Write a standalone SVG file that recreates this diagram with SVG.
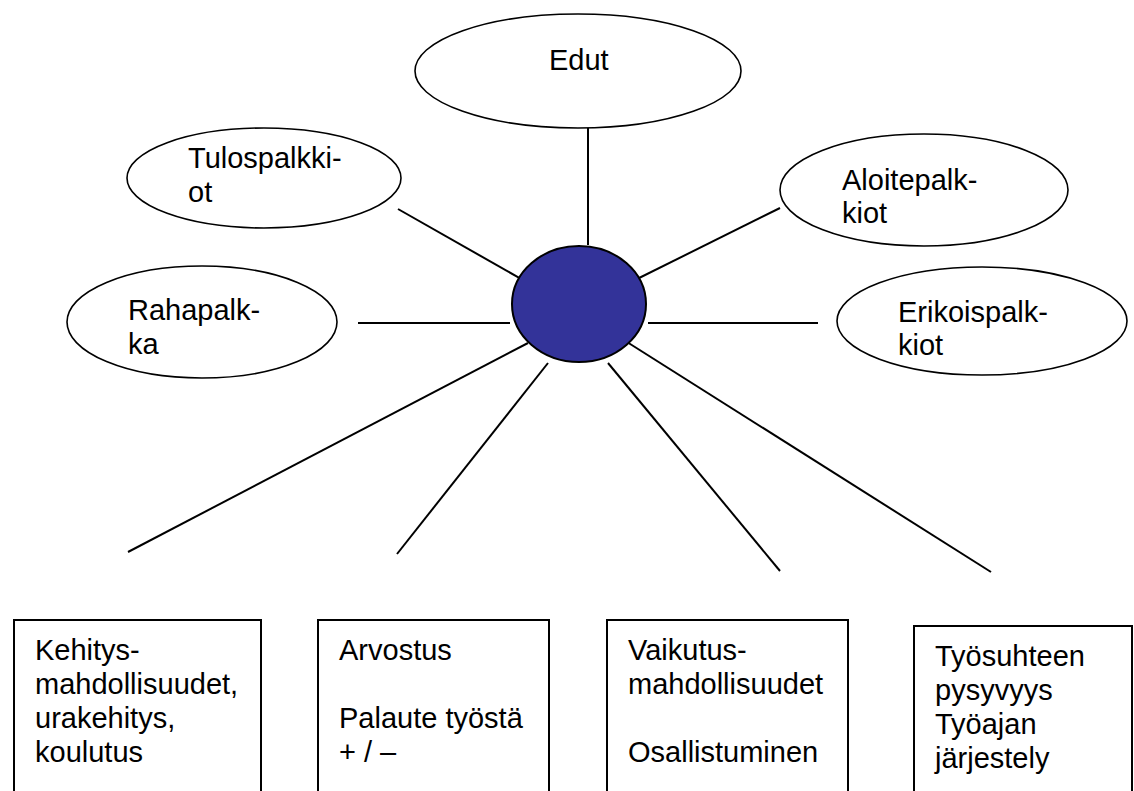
<svg xmlns="http://www.w3.org/2000/svg" width="1134" height="791" viewBox="0 0 1134 791">
<style>
text{font-family:"Liberation Sans",Arial,sans-serif;font-size:29px;fill:#000}
.el{fill:#fff;stroke:#000;stroke-width:1.6}
.bx{fill:#fff;stroke:#000;stroke-width:2}
.cn line{stroke:#000;stroke-width:2}
</style>
<rect width="1134" height="791" fill="#fff"/>
<g id="connectors" class="cn">
<line x1="588" y1="128" x2="588" y2="245"/>
<line x1="398" y1="209" x2="530" y2="284"/>
<line x1="780" y1="208" x2="627" y2="284"/>
<line x1="358" y1="323" x2="510" y2="323"/>
<line x1="648" y1="323" x2="818" y2="323"/>
<line x1="528" y1="343" x2="128" y2="552"/>
<line x1="548" y1="363" x2="397" y2="554"/>
<line x1="608" y1="363" x2="780" y2="571"/>
<line x1="627" y1="342" x2="991" y2="572"/>
</g>
<g id="center"><ellipse cx="579" cy="304" rx="67" ry="58" fill="#333399" stroke="#000" stroke-width="2"/></g>
<g id="edut"><ellipse class="el" cx="578" cy="71" rx="163" ry="57"/><text x="549" y="70">Edut</text></g>
<g id="tulospalkkiot"><ellipse class="el" cx="264" cy="178" rx="137" ry="50"/><text x="188" y="168">Tulospalkki-</text><text x="188" y="202">ot</text></g>
<g id="rahapalkka"><ellipse class="el" cx="202" cy="322" rx="135" ry="56"/><text x="128" y="320">Rahapalk-</text><text x="128" y="354">ka</text></g>
<g id="aloitepalkkiot"><ellipse class="el" cx="924" cy="190" rx="144" ry="56"/><text x="842" y="190">Aloitepalk-</text><text x="842" y="223">kiot</text></g>
<g id="erikoispalkkiot"><ellipse class="el" cx="982" cy="321" rx="145" ry="54"/><text x="898" y="322">Erikoispalk-</text><text x="898" y="355">kiot</text></g>
<g id="box1"><rect class="bx" x="14" y="620" width="247" height="200"/><text x="35" y="660">Kehitys-</text><text x="35" y="694">mahdollisuudet,</text><text x="35" y="728">urakehitys,</text><text x="35" y="762">koulutus</text></g>
<g id="box2"><rect class="bx" x="318" y="620" width="231" height="200"/><text x="339" y="660">Arvostus</text><text x="339" y="728">Palaute työstä</text><text x="339" y="762">+ / –</text></g>
<g id="box3"><rect class="bx" x="607" y="620" width="241" height="200"/><text x="628" y="660">Vaikutus-</text><text x="628" y="694">mahdollisuudet</text><text x="628" y="762">Osallistuminen</text></g>
<g id="box4"><rect class="bx" x="914" y="626" width="218" height="200"/><text x="935" y="666">Työsuhteen</text><text x="935" y="700">pysyvyys</text><text x="935" y="734">Työajan</text><text x="935" y="768">järjestely</text></g>
</svg>
